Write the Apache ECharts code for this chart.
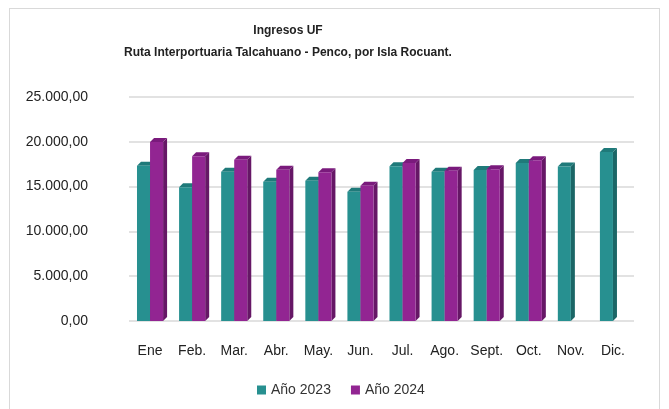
<!DOCTYPE html>
<html>
<head>
<meta charset="utf-8">
<script src="https://cdn.jsdelivr.net/npm/echarts@6/dist/echarts.min.js"></script>
<style>
  html, body { margin: 0; padding: 0; background: #fff; }
  #frame { position: absolute; left: 9px; top: 8px; width: 651px; height: 410px; border: 1px solid #d9d9d9; box-sizing: border-box; }
  #chart { width: 669px; height: 409px; }
</style>
</head>
<body>
<div id="frame"></div>
<div id="chart"></div>
<script>
const months = ["Ene", "Feb.", "Mar.", "Abr.", "May.", "Jun.", "Jul.", "Ago.", "Sept.", "Oct.", "Nov.", "Dic."];
const ingresos2023 = [17340, 14930, 16670, 15550, 15660, 14430, 17280, 16670, 16840, 17620, 17230, 18850];
const ingresos2024 = [19970, 18400, 18010, 16890, 16610, 15100, 17620, 16780, 16950, 17950, null, null];
const yTicks = [0, 5000, 10000, 15000, 20000, 25000];

const FONT = "'Liberation Sans', Arial, sans-serif";

// caras: frontal, superior, lateral
const palette = [
  { front: "#279090", top: "#1f7a7a", side: "#1b6666" },
  { front: "#922592", top: "#7a1a7c", side: "#661766" }
];

function makeRender(seriesIdx) {
  return function (params, api) {
    const val = api.value(1);
    if (val == null || isNaN(val)) return;
    const top = api.coord([api.value(0), val]);
    const base = api.coord([api.value(0), 0]);
    const band = api.size([1, 0])[0];
    const w = band * 0.31;
    const d = 4; // profundidad 3D
    const x = top[0] + (seriesIdx === 0 ? -w : 0);
    const y = top[1];
    const b = base[1];
    const c = palette[seriesIdx];
    return {
      type: "group",
      children: [
        { type: "polygon", shape: { points: [[x + w, y], [x + w + d, y - d], [x + w + d, b - d], [x + w, b]] }, style: { fill: c.side } },
        { type: "polygon", shape: { points: [[x, y], [x + d, y - d], [x + w + d, y - d], [x + w, y]] }, style: { fill: c.top } },
        { type: "rect", shape: { x: x, y: y, width: w, height: b - y }, style: { fill: c.front } }
      ]
    };
  };
}

const chart = echarts.init(document.getElementById("chart"));
chart.setOption({
  animation: false,
  title: {
    text: "Ingresos UF\nRuta Interportuaria Talcahuano - Penco, por Isla Rocuant.",
    left: 283,
    top: 15,
    textAlign: "center",
    textStyle: { fontFamily: FONT, fontSize: 12, fontWeight: "bold", color: "#222", lineHeight: 22 }
  },
  legend: {
    bottom: 7,
    left: 252,
    itemWidth: 9,
    itemHeight: 9,
    itemGap: 20,
    icon: "rect",
    textStyle: { fontFamily: FONT, fontSize: 14, color: "#333" },
    data: [
      { name: "Año 2023", itemStyle: { color: palette[0].front } },
      { name: "Año 2024", itemStyle: { color: palette[1].front } }
    ]
  },
  grid: { left: 129, right: 35, top: 97, bottom: 88 },
  xAxis: {
    type: "category",
    data: months,
    axisLine: { show: false },
    axisTick: { show: false },
    axisLabel: { fontFamily: FONT, fontSize: 14, color: "#222", margin: 23, interval: 0 }
  },
  yAxis: {
    type: "value",
    min: yTicks[0],
    max: yTicks[yTicks.length - 1],
    interval: 5000,
    axisLabel: {
      fontFamily: FONT, fontSize: 14, color: "#222", margin: 41,
      formatter: v => v.toLocaleString("de-DE", { minimumFractionDigits: 2, maximumFractionDigits: 2 })
    },
    splitLine: { lineStyle: { color: "#d9d9d9", width: 1.5 } }
  },
  series: [
    {
      name: "Año 2023", type: "custom", renderItem: makeRender(0),
      itemStyle: { color: palette[0].front },
      encode: { x: 0, y: 1 },
      data: ingresos2023.map((v, i) => [i, v])
    },
    {
      name: "Año 2024", type: "custom", renderItem: makeRender(1),
      itemStyle: { color: palette[1].front },
      encode: { x: 0, y: 1 },
      data: ingresos2024.map((v, i) => [i, v])
    }
  ]
});
</script>
</body>
</html>
